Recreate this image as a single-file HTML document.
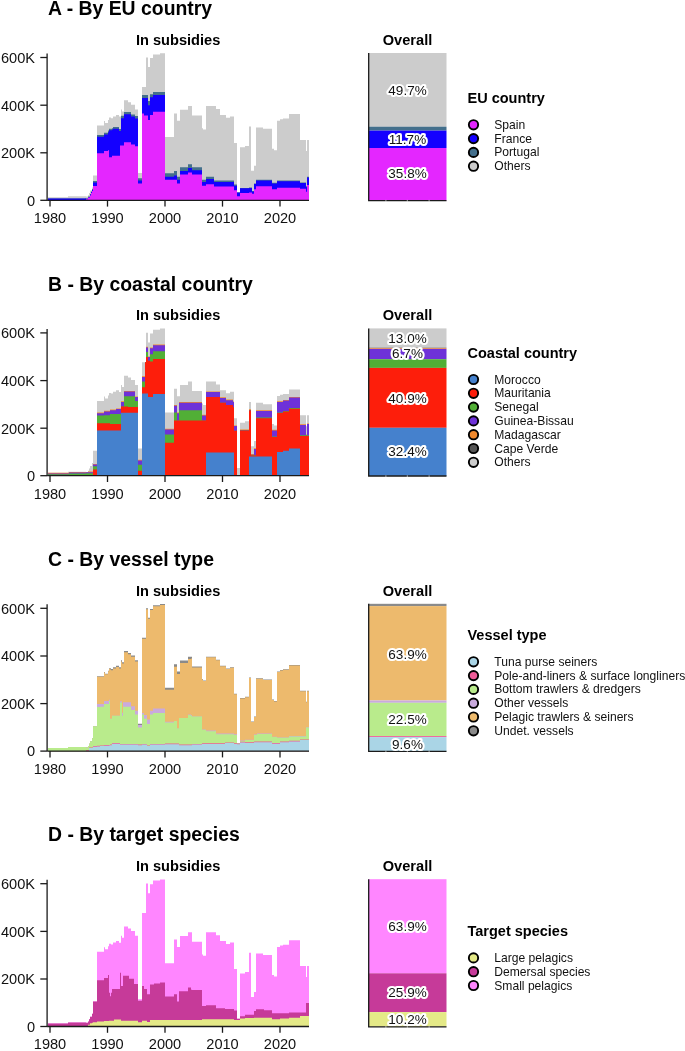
<!DOCTYPE html>
<html><head><meta charset="utf-8"><style>
html,body{margin:0;padding:0;background:#fff;width:685px;height:1051px;overflow:hidden;font-family:"Liberation Sans", sans-serif;}
svg{display:block;will-change:transform}
</style></head><body>
<svg width="685" height="1051" viewBox="0 0 685 1051" font-family='"Liberation Sans", sans-serif'>
<text x="48.0" y="15.1" font-size="19.4" font-weight="bold" text-anchor="start" fill="#000" >A - By EU country</text>
<text x="178.1" y="45.0" font-size="14.6" font-weight="bold" text-anchor="middle" fill="#000" >In subsidies</text>
<text x="407.5" y="45.0" font-size="14.6" font-weight="bold" text-anchor="middle" fill="#000" >Overall</text>
<path d="M48,200.40L48,197.30L68,197.30L68,196.30L85,196.30L85,196.30L86,196.30L86,196.60L88,196.60L88,195.30L89,195.30L89,193.00L90,193.00L90,190.50L91,190.50L91,190.50L92,190.50L92,187.50L93,187.50L93,175.40L97,175.40L97,125.50L104,125.50L104,121.10L105,121.10L105,123.00L108,123.00L108,120.00L109,120.00L109,117.50L111,117.50L111,118.20L112,118.20L112,118.20L113,118.20L113,116.40L116,116.40L116,114.90L119,114.90L119,116.50L120,116.50L120,116.50L121,116.50L121,109.50L122,109.50L122,111.50L124,111.50L124,100.30L128,100.30L128,102.20L131,102.20L131,104.70L135,104.70L135,109.50L138,109.50L138,173.00L142,173.00L142,86.90L144,86.90L144,86.90L146,86.90L146,57.40L148,57.40L148,67.00L150,67.00L150,58.10L153,58.10L153,54.40L160,54.40L160,53.20L165,53.20L165,137.00L174,137.00L174,113.40L177,113.40L177,120.80L180,120.80L180,109.70L188,109.70L188,106.00L192,106.00L192,115.60L202,115.60L202,128.20L203,128.20L203,129.60L206,129.60L206,106.00L214,106.00L214,106.00L216,106.00L216,109.00L220,109.00L220,114.90L226,114.90L226,117.80L230,117.80L230,116.40L234,116.40L234,142.90L237,142.90L237,192.50L240,192.50L240,147.30L245,147.30L245,145.90L249,145.90L249,126.60L251,126.60L251,170.80L252,170.80L252,170.80L254,170.80L254,165.70L256,165.70L256,127.40L263,127.40L263,128.80L272,128.80L272,148.70L274,148.70L274,150.20L277,150.20L277,120.70L280,120.70L280,119.30L283,119.30L283,118.50L289,118.50L289,114.10L300,114.10L300,139.90L306,139.90L306,150.90L307,150.90L307,139.90L309,139.90L309,200.40Z" fill="#cccccc"/>
<path d="M48,200.40L48,198.40L68,198.40L68,198.40L85,198.40L85,198.30L86,198.30L86,198.50L88,198.50L88,196.50L89,196.50L89,196.50L90,196.50L90,194.00L91,194.00L91,191.50L92,191.50L92,189.00L93,189.00L93,181.10L97,181.10L97,135.00L104,135.00L104,132.80L105,132.80L105,132.80L108,132.80L108,130.50L109,130.50L109,128.80L111,128.80L111,128.80L112,128.80L112,128.20L113,128.20L113,127.00L116,127.00L116,127.00L119,127.00L119,129.00L120,129.00L120,129.00L121,129.00L121,115.70L122,115.70L122,115.70L124,115.70L124,112.00L128,112.00L128,112.00L131,112.00L131,114.60L135,114.60L135,116.00L138,116.00L138,178.30L142,178.30L142,95.00L144,95.00L144,95.00L146,95.00L146,95.00L148,95.00L148,100.90L150,100.90L150,94.20L153,94.20L153,92.00L160,92.00L160,92.00L165,92.00L165,173.20L174,173.20L174,171.00L177,171.00L177,176.80L180,176.80L180,167.30L188,167.30L188,164.30L192,164.30L192,167.30L202,167.30L202,179.80L203,179.80L203,179.80L206,179.80L206,176.80L214,176.80L214,180.50L216,180.50L216,180.50L220,180.50L220,180.50L226,180.50L226,180.50L230,180.50L230,180.50L234,180.50L234,184.50L237,184.50L237,192.50L240,192.50L240,187.90L245,187.90L245,187.90L249,187.90L249,187.50L251,187.50L251,187.50L252,187.50L252,191.00L254,191.00L254,183.60L256,183.60L256,179.80L263,179.80L263,179.80L272,179.80L272,182.80L274,182.80L274,182.80L277,182.80L277,180.60L280,180.60L280,180.60L283,180.60L283,180.60L289,180.60L289,180.60L300,180.60L300,182.40L306,182.40L306,186.30L307,186.30L307,176.80L309,176.80L309,200.40Z" fill="#436f8c"/>
<path d="M48,200.40L48,198.60L68,198.60L68,198.60L85,198.60L85,198.50L86,198.50L86,198.80L88,198.80L88,197.00L89,197.00L89,197.00L90,197.00L90,194.50L91,194.50L91,192.00L92,192.00L92,190.00L93,190.00L93,182.40L97,182.40L97,136.80L104,136.80L104,134.60L105,134.60L105,134.60L108,134.60L108,132.30L109,132.30L109,130.30L111,130.30L111,130.30L112,130.30L112,129.50L113,129.50L113,128.80L116,128.80L116,128.80L119,128.80L119,131.00L120,131.00L120,131.00L121,131.00L121,118.20L122,118.20L122,118.20L124,118.20L124,114.20L128,114.20L128,114.20L131,114.20L131,116.40L135,116.40L135,118.60L138,118.60L138,180.50L142,180.50L142,97.90L144,97.90L144,97.90L146,97.90L146,97.90L148,97.90L148,105.30L150,105.30L150,97.20L153,97.20L153,95.00L160,95.00L160,95.00L165,95.00L165,176.80L174,176.80L174,175.40L177,175.40L177,179.80L180,179.80L180,171.00L188,171.00L188,168.00L192,168.00L192,170.20L202,170.20L202,182.00L203,182.00L203,182.00L206,182.00L206,179.10L214,179.10L214,182.00L216,182.00L216,182.00L220,182.00L220,182.00L226,182.00L226,182.00L230,182.00L230,182.00L234,182.00L234,185.70L237,185.70L237,192.50L240,192.50L240,188.30L245,188.30L245,188.30L249,188.30L249,188.00L251,188.00L251,188.00L252,188.00L252,191.50L254,191.50L254,184.10L256,184.10L256,180.40L263,180.40L263,180.40L272,180.40L272,183.40L274,183.40L274,183.40L277,183.40L277,181.20L280,181.20L280,181.20L283,181.20L283,181.20L289,181.20L289,181.20L300,181.20L300,183.00L306,183.00L306,186.90L307,186.90L307,177.40L309,177.40L309,200.40Z" fill="#1400ff"/>
<path d="M48,200.40L48,200.20L68,200.20L68,200.20L85,200.20L85,199.90L86,199.90L86,199.20L88,199.20L88,197.50L89,197.50L89,197.50L90,197.50L90,195.50L91,195.50L91,193.00L92,193.00L92,191.00L93,191.00L93,185.90L97,185.90L97,153.20L104,153.20L104,151.10L105,151.10L105,151.10L108,151.10L108,150.30L109,150.30L109,157.30L111,157.30L111,157.30L112,157.30L112,155.80L113,155.80L113,155.80L116,155.80L116,155.80L119,155.80L119,155.80L120,155.80L120,145.60L121,145.60L121,145.60L122,145.60L122,145.60L124,145.60L124,142.30L128,142.30L128,142.30L131,142.30L131,144.50L135,144.50L135,146.30L138,146.30L138,183.50L142,183.50L142,113.40L144,113.40L144,115.60L146,115.60L146,115.60L148,115.60L148,120.00L150,120.00L150,114.90L153,114.90L153,111.70L160,111.70L160,111.70L165,111.70L165,179.80L174,179.80L174,179.80L177,179.80L177,183.50L180,183.50L180,174.60L188,174.60L188,172.40L192,172.40L192,174.60L202,174.60L202,185.70L203,185.70L203,185.70L206,185.70L206,184.20L214,184.20L214,186.40L216,186.40L216,186.40L220,186.40L220,186.40L226,186.40L226,186.40L230,186.40L230,186.40L234,186.40L234,190.30L237,190.30L237,196.30L240,196.30L240,193.00L245,193.00L245,193.00L249,193.00L249,192.50L251,192.50L251,192.50L252,192.50L252,193.70L254,193.70L254,189.30L256,189.30L256,186.30L263,186.30L263,186.30L272,186.30L272,189.30L274,189.30L274,189.30L277,189.30L277,187.80L280,187.80L280,187.80L283,187.80L283,187.80L289,187.80L289,187.80L300,187.80L300,188.80L306,188.80L306,191.70L307,191.70L307,185.00L309,185.00L309,200.40Z" fill="#e426ff"/>
<path d="M47.1,53.5V200.3" stroke="#1a1a1a" stroke-width="1.3" fill="none"/>
<path d="M40.3,57.5H47.1" stroke="#1a1a1a" stroke-width="1.3"/>
<text x="35.0" y="62.8" font-size="14.6" font-weight="normal" text-anchor="end" fill="#111" >600K</text>
<path d="M40.3,105.2H47.1" stroke="#1a1a1a" stroke-width="1.3"/>
<text x="35.0" y="110.5" font-size="14.6" font-weight="normal" text-anchor="end" fill="#111" >400K</text>
<path d="M40.3,152.8H47.1" stroke="#1a1a1a" stroke-width="1.3"/>
<text x="35.0" y="158.1" font-size="14.6" font-weight="normal" text-anchor="end" fill="#111" >200K</text>
<path d="M40.3,200.3H47.1" stroke="#1a1a1a" stroke-width="1.3"/>
<text x="35.0" y="205.6" font-size="14.6" font-weight="normal" text-anchor="end" fill="#111" >0</text>
<path d="M47.1,200.3H309.0" stroke="#1a1a1a" stroke-width="1.3"/>
<path d="M50.0,200.3V206.6" stroke="#1a1a1a" stroke-width="1.3"/>
<text x="50.0" y="223.1" font-size="14.6" font-weight="normal" text-anchor="middle" fill="#111" >1980</text>
<path d="M107.5,200.3V206.6" stroke="#1a1a1a" stroke-width="1.3"/>
<text x="107.5" y="223.1" font-size="14.6" font-weight="normal" text-anchor="middle" fill="#111" >1990</text>
<path d="M165.0,200.3V206.6" stroke="#1a1a1a" stroke-width="1.3"/>
<text x="165.0" y="223.1" font-size="14.6" font-weight="normal" text-anchor="middle" fill="#111" >2000</text>
<path d="M222.5,200.3V206.6" stroke="#1a1a1a" stroke-width="1.3"/>
<text x="222.5" y="223.1" font-size="14.6" font-weight="normal" text-anchor="middle" fill="#111" >2010</text>
<path d="M280.0,200.3V206.6" stroke="#1a1a1a" stroke-width="1.3"/>
<text x="280.0" y="223.1" font-size="14.6" font-weight="normal" text-anchor="middle" fill="#111" >2020</text>
<rect x="368.5" y="53.00" width="78" height="73.70" fill="#cccccc"/>
<rect x="368.5" y="126.70" width="78" height="3.90" fill="#436f8c"/>
<rect x="368.5" y="130.60" width="78" height="17.40" fill="#1400ff"/>
<rect x="368.5" y="148.00" width="78" height="52.50" fill="#e426ff"/>
<path d="M368.7,53.0V200.6H446.5" stroke="#1a1a1a" stroke-width="1.3" fill="none"/>
<rect x="385.4" y="199.9" width="1" height="1.8" fill="#fff" opacity="0.6"/>
<rect x="406.8" y="199.9" width="1" height="1.8" fill="#fff" opacity="0.6"/>
<rect x="428.6" y="199.9" width="1" height="1.8" fill="#fff" opacity="0.6"/>
<text x="407.5" y="95.1" font-size="13.5" font-weight="normal" text-anchor="middle" fill="#111" stroke="#fff" stroke-width="4.2" paint-order="stroke" stroke-linejoin="round">49.7%</text>
<text x="407.5" y="144.4" font-size="13.5" font-weight="normal" text-anchor="middle" fill="#111" stroke="#fff" stroke-width="4.2" paint-order="stroke" stroke-linejoin="round">11.7%</text>
<text x="407.5" y="178.4" font-size="13.5" font-weight="normal" text-anchor="middle" fill="#111" stroke="#fff" stroke-width="4.2" paint-order="stroke" stroke-linejoin="round">35.8%</text>
<text x="467.5" y="103.0" font-size="14.5" font-weight="bold" text-anchor="start" fill="#000" >EU country</text>
<circle cx="473.5" cy="124.8" r="4.65" fill="#e426ff" stroke="#000" stroke-width="1.9"/>
<text x="494.3" y="128.8" font-size="12.1" font-weight="normal" text-anchor="start" fill="#111" >Spain</text>
<circle cx="473.5" cy="138.6" r="4.65" fill="#1400ff" stroke="#000" stroke-width="1.9"/>
<text x="494.3" y="142.6" font-size="12.1" font-weight="normal" text-anchor="start" fill="#111" >France</text>
<circle cx="473.5" cy="152.4" r="4.65" fill="#436f8c" stroke="#000" stroke-width="1.9"/>
<text x="494.3" y="156.4" font-size="12.1" font-weight="normal" text-anchor="start" fill="#111" >Portugal</text>
<circle cx="473.5" cy="166.2" r="4.65" fill="#cccccc" stroke="#000" stroke-width="1.9"/>
<text x="494.3" y="170.2" font-size="12.1" font-weight="normal" text-anchor="start" fill="#111" >Others</text>
<text x="48.0" y="290.5" font-size="19.4" font-weight="bold" text-anchor="start" fill="#000" >B - By coastal country</text>
<text x="178.1" y="320.4" font-size="14.6" font-weight="bold" text-anchor="middle" fill="#000" >In subsidies</text>
<text x="407.5" y="320.4" font-size="14.6" font-weight="bold" text-anchor="middle" fill="#000" >Overall</text>
<path d="M48,475.80L48,472.70L68,472.70L68,471.70L69,471.70L69,471.70L86,471.70L86,472.00L88,472.00L88,470.70L89,470.70L89,468.40L90,468.40L90,465.90L92,465.90L92,462.90L93,462.90L93,450.80L97,450.80L97,400.90L104,400.90L104,396.50L105,396.50L105,398.40L108,398.40L108,395.40L109,395.40L109,392.90L110,392.90L110,392.90L111,392.90L111,393.60L113,393.60L113,391.80L116,391.80L116,390.30L119,390.30L119,391.90L121,391.90L121,384.90L122,384.90L122,386.90L124,386.90L124,375.70L128,375.70L128,377.60L131,377.60L131,380.10L135,380.10L135,384.90L138,384.90L138,448.40L142,448.40L142,362.30L145,362.30L145,362.30L146,362.30L146,332.80L148,332.80L148,342.40L150,342.40L150,333.50L153,333.50L153,329.80L160,329.80L160,328.60L165,328.60L165,412.40L174,412.40L174,388.80L177,388.80L177,396.20L179,396.20L179,396.20L180,396.20L180,385.10L188,385.10L188,381.40L192,381.40L192,391.00L202,391.00L202,403.60L203,403.60L203,405.00L206,405.00L206,381.40L216,381.40L216,384.40L220,384.40L220,390.30L226,390.30L226,393.20L230,393.20L230,391.80L233,391.80L233,391.80L234,391.80L234,418.30L237,418.30L237,467.90L240,467.90L240,422.70L245,422.70L245,421.30L249,421.30L249,402.00L251,402.00L251,446.20L254,446.20L254,441.10L256,441.10L256,402.80L263,402.80L263,404.20L272,404.20L272,424.10L274,424.10L274,425.60L277,425.60L277,396.10L280,396.10L280,394.70L283,394.70L283,393.90L289,393.90L289,389.50L300,389.50L300,415.30L306,415.30L306,426.30L307,426.30L307,415.30L309,415.30L309,475.80Z" fill="#cccccc"/>
<path d="M48,475.80L48,472.70L68,472.70L68,472.70L69,472.70L69,471.90L86,471.90L86,472.00L88,472.00L88,471.50L89,471.50L89,471.50L90,471.50L90,471.50L92,471.50L92,471.50L93,471.50L93,463.90L97,463.90L97,412.60L104,412.60L104,410.70L105,410.70L105,410.70L108,410.70L108,410.70L109,410.70L109,410.70L110,410.70L110,409.50L111,409.50L111,409.50L113,409.50L113,409.50L116,409.50L116,408.40L119,408.40L119,408.40L121,408.40L121,401.20L122,401.20L122,401.20L124,401.20L124,390.90L128,390.90L128,390.90L131,390.90L131,390.90L135,390.90L135,396.40L138,396.40L138,459.70L142,459.70L142,376.30L145,376.30L145,362.30L146,362.30L146,346.80L148,346.80L148,356.40L150,356.40L150,347.60L153,347.60L153,344.60L160,344.60L160,344.60L165,344.60L165,428.70L174,428.70L174,405.10L177,405.10L177,412.50L179,412.50L179,402.10L180,402.10L180,402.10L188,402.10L188,402.10L192,402.10L192,402.10L202,402.10L202,414.70L203,414.70L203,414.70L206,414.70L206,391.40L216,391.40L216,391.40L220,391.40L220,397.30L226,397.30L226,399.50L230,399.50L230,399.50L233,399.50L233,401.40L234,401.40L234,425.40L237,425.40L237,475.20L240,475.20L240,429.40L245,429.40L245,429.40L249,429.40L249,409.20L251,409.20L251,454.10L254,454.10L254,448.20L256,448.20L256,410.20L263,410.20L263,410.20L272,410.20L272,429.80L274,429.80L274,429.80L277,429.80L277,401.30L280,401.30L280,401.30L283,401.30L283,399.90L289,399.90L289,396.90L300,396.90L300,424.20L306,424.20L306,434.50L307,434.50L307,423.40L309,423.40L309,475.80Z" fill="#f0882c"/>
<path d="M48,475.80L48,473.40L68,473.40L68,473.40L69,473.40L69,472.60L86,472.60L86,472.20L88,472.20L88,472.20L89,472.20L89,472.20L90,472.20L90,472.20L92,472.20L92,472.20L93,472.20L93,464.60L97,464.60L97,413.30L104,413.30L104,411.40L105,411.40L105,411.40L108,411.40L108,411.40L109,411.40L109,411.40L110,411.40L110,410.20L111,410.20L111,410.20L113,410.20L113,410.20L116,410.20L116,409.10L119,409.10L119,409.10L121,409.10L121,401.90L122,401.90L122,401.90L124,401.90L124,391.60L128,391.60L128,391.60L131,391.60L131,391.60L135,391.60L135,397.10L138,397.10L138,460.40L142,460.40L142,377.00L145,377.00L145,362.30L146,362.30L146,347.50L148,347.50L148,357.10L150,357.10L150,348.30L153,348.30L153,345.30L160,345.30L160,345.30L165,345.30L165,429.40L174,429.40L174,405.80L177,405.80L177,413.20L179,413.20L179,402.80L180,402.80L180,402.80L188,402.80L188,402.80L192,402.80L192,402.80L202,402.80L202,415.40L203,415.40L203,415.40L206,415.40L206,392.10L216,392.10L216,392.10L220,392.10L220,398.00L226,398.00L226,400.20L230,400.20L230,400.20L233,400.20L233,402.10L234,402.10L234,426.10L237,426.10L237,475.80L240,475.80L240,430.10L245,430.10L245,430.10L249,430.10L249,409.90L251,409.90L251,454.80L254,454.80L254,448.90L256,448.90L256,410.90L263,410.90L263,410.90L272,410.90L272,430.50L274,430.50L274,430.50L277,430.50L277,402.00L280,402.00L280,402.00L283,402.00L283,400.60L289,400.60L289,397.60L300,397.60L300,424.90L306,424.90L306,435.20L307,435.20L307,424.10L309,424.10L309,475.80Z" fill="#6e31d8"/>
<path d="M48,475.80L48,474.20L68,474.20L68,474.20L69,474.20L69,473.60L86,473.60L86,473.20L88,473.20L88,473.20L89,473.20L89,473.20L90,473.20L90,473.20L92,473.20L92,473.20L93,473.20L93,466.20L97,466.20L97,415.40L104,415.40L104,415.20L105,415.20L105,415.20L108,415.20L108,415.20L109,415.20L109,415.20L110,415.20L110,414.10L111,414.10L111,414.10L113,414.10L113,414.10L116,414.10L116,414.10L119,414.10L119,414.10L121,414.10L121,406.40L122,406.40L122,406.40L124,406.40L124,396.20L128,396.20L128,396.20L131,396.20L131,396.20L135,396.20L135,401.10L138,401.10L138,464.80L142,464.80L142,381.40L145,381.40L145,362.30L146,362.30L146,351.90L148,351.90L148,360.80L150,360.80L150,354.20L153,354.20L153,351.20L160,351.20L160,351.20L165,351.20L165,434.50L174,434.50L174,412.40L177,412.40L177,420.50L179,420.50L179,410.20L180,410.20L180,410.20L188,410.20L188,410.20L192,410.20L192,410.20L202,410.20L202,420.50L203,420.50L203,420.50L206,420.50L206,396.90L216,396.90L216,396.90L220,396.90L220,402.80L226,402.80L226,405.00L230,405.00L230,405.00L233,405.00L233,407.30L234,407.30L234,430.70L237,430.70L237,475.80L240,475.80L240,430.40L245,430.40L245,430.40L249,430.40L249,410.40L251,410.40L251,455.30L254,455.30L254,455.30L256,455.30L256,417.60L263,417.60L263,417.60L272,417.60L272,436.50L274,436.50L274,436.50L277,436.50L277,412.50L280,412.50L280,412.50L283,412.50L283,411.00L289,411.00L289,408.10L300,408.10L300,435.30L306,435.30L306,435.30L307,435.30L307,435.30L309,435.30L309,475.80Z" fill="#51af36"/>
<path d="M48,475.80L48,475.80L68,475.80L68,475.80L69,475.80L69,475.80L86,475.80L86,475.80L88,475.80L88,475.80L89,475.80L89,475.80L90,475.80L90,475.80L92,475.80L92,475.80L93,475.80L93,469.40L97,469.40L97,423.30L104,423.30L104,423.20L105,423.20L105,423.20L108,423.20L108,423.20L109,423.20L109,423.20L110,423.20L110,423.90L111,423.90L111,423.90L113,423.90L113,423.90L116,423.90L116,423.90L119,423.90L119,423.90L121,423.90L121,406.40L122,406.40L122,406.40L124,406.40L124,406.40L128,406.40L128,407.00L131,407.00L131,407.00L135,407.00L135,407.00L138,407.00L138,470.70L142,470.70L142,387.30L145,387.30L145,362.30L146,362.30L146,357.10L148,357.10L148,360.80L150,360.80L150,361.50L153,361.50L153,359.00L160,359.00L160,359.00L165,359.00L165,442.70L174,442.70L174,420.50L177,420.50L177,420.50L179,420.50L179,420.50L180,420.50L180,420.50L188,420.50L188,420.50L192,420.50L192,420.50L202,420.50L202,420.50L203,420.50L203,420.50L206,420.50L206,396.90L216,396.90L216,396.90L220,396.90L220,402.80L226,402.80L226,405.00L230,405.00L230,405.00L233,405.00L233,407.30L234,407.30L234,430.70L237,430.70L237,475.80L240,475.80L240,430.40L245,430.40L245,430.40L249,430.40L249,410.60L251,410.60L251,455.40L254,455.40L254,455.40L256,455.40L256,418.20L263,418.20L263,418.20L272,418.20L272,437.10L274,437.10L274,437.10L277,437.10L277,413.10L280,413.10L280,413.10L283,413.10L283,411.60L289,411.60L289,408.70L300,408.70L300,435.90L306,435.90L306,435.90L307,435.90L307,435.90L309,435.90L309,475.80Z" fill="#fd1e0b"/>
<path d="M48,475.80L48,475.80L68,475.80L68,475.80L69,475.80L69,475.80L86,475.80L86,475.80L88,475.80L88,475.80L89,475.80L89,475.80L90,475.80L90,475.80L92,475.80L92,475.80L93,475.80L93,475.80L97,475.80L97,430.60L104,430.60L104,430.40L105,430.40L105,430.40L108,430.40L108,430.40L109,430.40L109,430.40L110,430.40L110,430.40L111,430.40L111,430.40L113,430.40L113,430.40L116,430.40L116,430.40L119,430.40L119,430.40L121,430.40L121,412.80L122,412.80L122,412.80L124,412.80L124,412.80L128,412.80L128,412.80L131,412.80L131,412.80L135,412.80L135,412.80L138,412.80L138,475.80L142,475.80L142,393.50L145,393.50L145,393.50L146,393.50L146,393.50L148,393.50L148,396.90L150,396.90L150,396.90L153,396.90L153,394.00L160,394.00L160,394.00L165,394.00L165,475.80L174,475.80L174,475.80L177,475.80L177,475.80L179,475.80L179,475.80L180,475.80L180,475.80L188,475.80L188,475.80L192,475.80L192,475.80L202,475.80L202,475.80L203,475.80L203,475.80L206,475.80L206,452.50L216,452.50L216,452.50L220,452.50L220,452.50L226,452.50L226,452.50L230,452.50L230,452.50L233,452.50L233,452.50L234,452.50L234,475.80L237,475.80L237,475.80L240,475.80L240,475.80L245,475.80L245,475.80L249,475.80L249,456.60L251,456.60L251,456.60L254,456.60L254,456.60L256,456.60L256,456.60L263,456.60L263,456.60L272,456.60L272,475.80L274,475.80L274,475.80L277,475.80L277,452.10L280,452.10L280,452.10L283,452.10L283,450.70L289,450.70L289,448.40L300,448.40L300,475.80L306,475.80L306,475.80L307,475.80L307,475.80L309,475.80L309,475.80Z" fill="#4581cd"/>
<path d="M47.1,328.9V475.7" stroke="#1a1a1a" stroke-width="1.3" fill="none"/>
<path d="M40.3,332.9H47.1" stroke="#1a1a1a" stroke-width="1.3"/>
<text x="35.0" y="338.2" font-size="14.6" font-weight="normal" text-anchor="end" fill="#111" >600K</text>
<path d="M40.3,380.6H47.1" stroke="#1a1a1a" stroke-width="1.3"/>
<text x="35.0" y="385.9" font-size="14.6" font-weight="normal" text-anchor="end" fill="#111" >400K</text>
<path d="M40.3,428.2H47.1" stroke="#1a1a1a" stroke-width="1.3"/>
<text x="35.0" y="433.5" font-size="14.6" font-weight="normal" text-anchor="end" fill="#111" >200K</text>
<path d="M40.3,475.7H47.1" stroke="#1a1a1a" stroke-width="1.3"/>
<text x="35.0" y="481.0" font-size="14.6" font-weight="normal" text-anchor="end" fill="#111" >0</text>
<path d="M47.1,475.7H309.0" stroke="#1a1a1a" stroke-width="1.3"/>
<path d="M50.0,475.7V482.0" stroke="#1a1a1a" stroke-width="1.3"/>
<text x="50.0" y="498.5" font-size="14.6" font-weight="normal" text-anchor="middle" fill="#111" >1980</text>
<path d="M107.5,475.7V482.0" stroke="#1a1a1a" stroke-width="1.3"/>
<text x="107.5" y="498.5" font-size="14.6" font-weight="normal" text-anchor="middle" fill="#111" >1990</text>
<path d="M165.0,475.7V482.0" stroke="#1a1a1a" stroke-width="1.3"/>
<text x="165.0" y="498.5" font-size="14.6" font-weight="normal" text-anchor="middle" fill="#111" >2000</text>
<path d="M222.5,475.7V482.0" stroke="#1a1a1a" stroke-width="1.3"/>
<text x="222.5" y="498.5" font-size="14.6" font-weight="normal" text-anchor="middle" fill="#111" >2010</text>
<path d="M280.0,475.7V482.0" stroke="#1a1a1a" stroke-width="1.3"/>
<text x="280.0" y="498.5" font-size="14.6" font-weight="normal" text-anchor="middle" fill="#111" >2020</text>
<rect x="368.5" y="328.40" width="78" height="19.30" fill="#cccccc"/>
<rect x="368.5" y="347.70" width="78" height="0.40" fill="#555555"/>
<rect x="368.5" y="348.10" width="78" height="0.80" fill="#f0882c"/>
<rect x="368.5" y="348.90" width="78" height="10.30" fill="#6e31d8"/>
<rect x="368.5" y="359.20" width="78" height="8.70" fill="#51af36"/>
<rect x="368.5" y="367.90" width="78" height="59.90" fill="#fd1e0b"/>
<rect x="368.5" y="427.80" width="78" height="48.10" fill="#4581cd"/>
<path d="M368.7,328.4V476.0H446.5" stroke="#1a1a1a" stroke-width="1.3" fill="none"/>
<rect x="385.4" y="475.3" width="1" height="1.8" fill="#fff" opacity="0.6"/>
<rect x="406.8" y="475.3" width="1" height="1.8" fill="#fff" opacity="0.6"/>
<rect x="428.6" y="475.3" width="1" height="1.8" fill="#fff" opacity="0.6"/>
<text x="407.5" y="342.7" font-size="13.5" font-weight="normal" text-anchor="middle" fill="#111" stroke="#fff" stroke-width="4.2" paint-order="stroke" stroke-linejoin="round">13.0%</text>
<text x="407.5" y="358.3" font-size="13.5" font-weight="normal" text-anchor="middle" fill="#111" stroke="#fff" stroke-width="4.2" paint-order="stroke" stroke-linejoin="round">6.7%</text>
<text x="407.5" y="402.5" font-size="13.5" font-weight="normal" text-anchor="middle" fill="#111" stroke="#fff" stroke-width="4.2" paint-order="stroke" stroke-linejoin="round">40.9%</text>
<text x="407.5" y="455.8" font-size="13.5" font-weight="normal" text-anchor="middle" fill="#111" stroke="#fff" stroke-width="4.2" paint-order="stroke" stroke-linejoin="round">32.4%</text>
<text x="467.5" y="357.7" font-size="14.5" font-weight="bold" text-anchor="start" fill="#000" >Coastal country</text>
<circle cx="473.5" cy="379.5" r="4.65" fill="#4581cd" stroke="#000" stroke-width="1.9"/>
<text x="494.3" y="383.5" font-size="12.1" font-weight="normal" text-anchor="start" fill="#111" >Morocco</text>
<circle cx="473.5" cy="393.3" r="4.65" fill="#fd1e0b" stroke="#000" stroke-width="1.9"/>
<text x="494.3" y="397.3" font-size="12.1" font-weight="normal" text-anchor="start" fill="#111" >Mauritania</text>
<circle cx="473.5" cy="407.1" r="4.65" fill="#51af36" stroke="#000" stroke-width="1.9"/>
<text x="494.3" y="411.1" font-size="12.1" font-weight="normal" text-anchor="start" fill="#111" >Senegal</text>
<circle cx="473.5" cy="420.9" r="4.65" fill="#6e31d8" stroke="#000" stroke-width="1.9"/>
<text x="494.3" y="424.9" font-size="12.1" font-weight="normal" text-anchor="start" fill="#111" >Guinea-Bissau</text>
<circle cx="473.5" cy="434.7" r="4.65" fill="#f0882c" stroke="#000" stroke-width="1.9"/>
<text x="494.3" y="438.7" font-size="12.1" font-weight="normal" text-anchor="start" fill="#111" >Madagascar</text>
<circle cx="473.5" cy="448.5" r="4.65" fill="#555555" stroke="#000" stroke-width="1.9"/>
<text x="494.3" y="452.5" font-size="12.1" font-weight="normal" text-anchor="start" fill="#111" >Cape Verde</text>
<circle cx="473.5" cy="462.3" r="4.65" fill="#cccccc" stroke="#000" stroke-width="1.9"/>
<text x="494.3" y="466.3" font-size="12.1" font-weight="normal" text-anchor="start" fill="#111" >Others</text>
<text x="48.0" y="565.9" font-size="19.4" font-weight="bold" text-anchor="start" fill="#000" >C - By vessel type</text>
<text x="178.1" y="595.8" font-size="14.6" font-weight="bold" text-anchor="middle" fill="#000" >In subsidies</text>
<text x="407.5" y="595.8" font-size="14.6" font-weight="bold" text-anchor="middle" fill="#000" >Overall</text>
<path d="M48,751.20L48,748.10L68,748.10L68,747.10L86,747.10L86,747.40L88,747.40L88,746.10L89,746.10L89,743.80L90,743.80L90,741.30L92,741.30L92,738.30L93,738.30L93,726.20L97,726.20L97,676.30L100,676.30L100,676.30L104,676.30L104,671.90L105,671.90L105,673.80L108,673.80L108,670.80L109,670.80L109,668.30L110,668.30L110,668.30L111,668.30L111,669.00L112,669.00L112,669.00L113,669.00L113,667.20L116,667.20L116,665.70L119,665.70L119,667.30L120,667.30L120,667.30L121,667.30L121,660.30L122,660.30L122,662.30L123,662.30L123,662.30L124,662.30L124,651.10L128,651.10L128,653.00L131,653.00L131,655.50L135,655.50L135,660.30L138,660.30L138,723.80L142,723.80L142,637.70L144,637.70L144,637.70L146,637.70L146,608.20L147,608.20L147,608.20L148,608.20L148,617.80L150,617.80L150,608.90L153,608.90L153,605.20L160,605.20L160,604.00L165,604.00L165,687.80L174,687.80L174,664.20L177,664.20L177,671.60L179,671.60L179,671.60L180,671.60L180,660.50L188,660.50L188,656.80L191,656.80L191,656.80L192,656.80L192,666.40L202,666.40L202,679.00L203,679.00L203,680.40L206,680.40L206,656.80L216,656.80L216,659.80L220,659.80L220,665.70L225,665.70L225,665.70L226,665.70L226,668.60L230,668.60L230,667.20L234,667.20L234,693.70L237,693.70L237,743.30L240,743.30L240,698.10L245,698.10L245,696.70L249,696.70L249,677.40L251,677.40L251,721.60L254,721.60L254,716.50L256,716.50L256,678.20L257,678.20L257,678.20L263,678.20L263,679.60L272,679.60L272,699.50L274,699.50L274,701.00L277,701.00L277,671.50L280,671.50L280,670.10L283,670.10L283,669.30L289,669.30L289,664.90L300,664.90L300,690.70L306,690.70L306,701.70L307,701.70L307,690.70L309,690.70L309,751.20Z" fill="#8a8a8a"/>
<path d="M48,751.20L48,748.10L68,748.10L68,747.10L86,747.10L86,747.40L88,747.40L88,746.10L89,746.10L89,743.80L90,743.80L90,741.30L92,741.30L92,738.30L93,738.30L93,726.20L97,726.20L97,676.80L100,676.80L100,676.80L104,676.80L104,672.40L105,672.40L105,674.30L108,674.30L108,671.30L109,671.30L109,668.80L110,668.80L110,669.50L111,669.50L111,670.20L112,670.20L112,670.20L113,670.20L113,668.40L116,668.40L116,666.90L119,666.90L119,668.50L120,668.50L120,668.50L121,668.50L121,661.50L122,661.50L122,663.50L123,663.50L123,663.50L124,663.50L124,652.30L128,652.30L128,654.20L131,654.20L131,656.70L135,656.70L135,661.50L138,661.50L138,725.00L142,725.00L142,638.70L144,638.70L144,638.70L146,638.70L146,609.20L147,609.20L147,609.20L148,609.20L148,618.80L150,618.80L150,609.90L153,609.90L153,606.20L160,606.20L160,605.00L165,605.00L165,689.80L174,689.80L174,666.70L177,666.70L177,673.90L179,673.90L179,674.10L180,674.10L180,663.00L188,663.00L188,659.10L191,659.10L191,658.60L192,658.60L192,667.60L202,667.60L202,679.60L203,679.60L203,681.00L206,681.00L206,657.30L216,657.30L216,660.30L220,660.30L220,666.20L225,666.20L225,666.20L226,666.20L226,669.10L230,669.10L230,667.70L234,667.70L234,694.20L237,694.20L237,743.80L240,743.80L240,698.60L245,698.60L245,697.20L249,697.20L249,677.90L251,677.90L251,722.10L254,722.10L254,717.00L256,717.00L256,678.70L257,678.70L257,678.70L263,678.70L263,680.10L272,680.10L272,700.00L274,700.00L274,701.50L277,701.50L277,672.00L280,672.00L280,670.60L283,670.60L283,669.80L289,669.80L289,665.40L300,665.40L300,691.20L306,691.20L306,702.20L307,702.20L307,691.20L309,691.20L309,751.20Z" fill="#edba6d"/>
<path d="M48,751.20L48,748.10L68,748.10L68,747.10L86,747.10L86,747.40L88,747.40L88,746.10L89,746.10L89,743.80L90,743.80L90,741.30L92,741.30L92,738.30L93,738.30L93,726.20L97,726.20L97,703.90L100,703.90L100,704.00L104,704.00L104,701.10L105,701.10L105,701.10L108,701.10L108,701.10L109,701.10L109,699.80L110,699.80L110,718.80L111,718.80L111,718.80L112,718.80L112,715.80L113,715.80L113,715.80L116,715.80L116,715.80L119,715.80L119,715.80L120,715.80L120,701.30L121,701.30L121,701.30L122,701.30L122,712.80L123,712.80L123,702.30L124,702.30L124,702.30L128,702.30L128,702.30L131,702.30L131,706.30L135,706.30L135,710.70L138,710.70L138,725.00L142,725.00L142,712.90L144,712.90L144,715.10L146,715.10L146,715.10L147,715.10L147,719.50L148,719.50L148,719.50L150,719.50L150,710.70L153,710.70L153,708.50L160,708.50L160,708.50L165,708.50L165,721.80L174,721.80L174,721.00L177,721.00L177,728.40L179,728.40L179,718.10L180,718.10L180,718.10L188,718.10L188,714.40L191,714.40L191,715.10L192,715.10L192,716.60L202,716.60L202,729.40L203,729.40L203,729.40L206,729.40L206,730.40L216,730.40L216,733.40L220,733.40L220,733.40L225,733.40L225,733.40L226,733.40L226,733.40L230,733.40L230,733.40L234,733.40L234,734.30L237,734.30L237,743.80L240,743.80L240,740.40L245,740.40L245,739.80L249,739.80L249,739.80L251,739.80L251,739.80L254,739.80L254,734.60L256,734.60L256,734.60L257,734.60L257,733.60L263,733.60L263,733.60L272,733.60L272,736.80L274,736.80L274,736.80L277,736.80L277,737.50L280,737.50L280,737.50L283,737.50L283,737.50L289,737.50L289,736.10L300,736.10L300,736.10L306,736.10L306,727.20L307,727.20L307,727.20L309,727.20L309,751.20Z" fill="#c9aadd"/>
<path d="M48,751.20L48,748.10L68,748.10L68,747.10L86,747.10L86,747.40L88,747.40L88,746.10L89,746.10L89,743.80L90,743.80L90,741.30L92,741.30L92,738.30L93,738.30L93,726.20L97,726.20L97,707.10L100,707.10L100,706.70L104,706.70L104,704.00L105,704.00L105,704.00L108,704.00L108,704.00L109,704.00L109,701.10L110,701.10L110,718.80L111,718.80L111,718.80L112,718.80L112,715.80L113,715.80L113,715.80L116,715.80L116,715.80L119,715.80L119,715.80L120,715.80L120,702.60L121,702.60L121,702.60L122,702.60L122,715.80L123,715.80L123,706.70L124,706.70L124,706.70L128,706.70L128,706.70L131,706.70L131,709.90L135,709.90L135,714.40L138,714.40L138,727.60L142,727.60L142,714.40L144,714.40L144,718.80L146,718.80L146,718.80L147,718.80L147,724.00L148,724.00L148,724.00L150,724.00L150,714.40L153,714.40L153,712.90L160,712.90L160,712.90L165,712.90L165,722.50L174,722.50L174,721.00L177,721.00L177,728.40L179,728.40L179,718.10L180,718.10L180,718.10L188,718.10L188,715.10L191,715.10L191,715.80L192,715.80L192,716.60L202,716.60L202,729.80L203,729.80L203,729.80L206,729.80L206,731.30L216,731.30L216,734.30L220,734.30L220,734.30L225,734.30L225,734.30L226,734.30L226,734.30L230,734.30L230,734.30L234,734.30L234,735.00L237,735.00L237,743.80L240,743.80L240,740.90L245,740.90L245,740.10L249,740.10L249,740.10L251,740.10L251,740.10L254,740.10L254,734.90L256,734.90L256,734.90L257,734.90L257,733.90L263,733.90L263,733.90L272,733.90L272,737.10L274,737.10L274,737.10L277,737.10L277,737.80L280,737.80L280,737.80L283,737.80L283,737.80L289,737.80L289,736.40L300,736.40L300,736.40L306,736.40L306,727.50L307,727.50L307,727.50L309,727.50L309,751.20Z" fill="#b9eb8c"/>
<path d="M48,751.20L48,751.20L68,751.20L68,751.20L86,751.20L86,750.30L88,750.30L88,750.30L89,750.30L89,747.40L90,747.40L90,747.40L92,747.40L92,747.40L93,747.40L93,746.10L97,746.10L97,745.80L100,745.80L100,745.40L104,745.40L104,745.10L105,745.10L105,745.10L108,745.10L108,745.10L109,745.10L109,744.90L110,744.90L110,744.60L111,744.60L111,744.60L112,744.60L112,743.10L113,743.10L113,743.10L116,743.10L116,743.10L119,743.10L119,743.10L120,743.10L120,743.90L121,743.90L121,743.90L122,743.90L122,743.90L123,743.90L123,743.90L124,743.90L124,743.90L128,743.90L128,743.90L131,743.90L131,743.90L135,743.90L135,743.90L138,743.90L138,744.60L142,744.60L142,743.90L144,743.90L144,743.90L146,743.90L146,743.90L147,743.90L147,745.40L148,745.40L148,745.40L150,745.40L150,743.90L153,743.90L153,743.90L160,743.90L160,743.90L165,743.90L165,743.50L174,743.50L174,743.50L177,743.50L177,743.50L179,743.50L179,744.60L180,744.60L180,744.60L188,744.60L188,744.60L191,744.60L191,744.60L192,744.60L192,743.90L202,743.90L202,743.20L203,743.20L203,743.20L206,743.20L206,743.20L216,743.20L216,743.20L220,743.20L220,743.20L225,743.20L225,742.40L226,742.40L226,742.40L230,742.40L230,742.40L234,742.40L234,743.20L237,743.20L237,743.80L240,743.80L240,741.70L245,741.70L245,742.30L249,742.30L249,742.30L251,742.30L251,742.30L254,742.30L254,741.60L256,741.60L256,741.60L257,741.60L257,741.60L263,741.60L263,741.60L272,741.60L272,743.10L274,743.10L274,743.10L277,743.10L277,743.10L280,743.10L280,741.60L283,741.60L283,741.60L289,741.60L289,740.80L300,740.80L300,739.40L306,739.40L306,739.40L307,739.40L307,739.40L309,739.40L309,751.20Z" fill="#ee5c98"/>
<path d="M48,751.20L48,751.20L68,751.20L68,751.20L86,751.20L86,751.00L88,751.00L88,751.00L89,751.00L89,748.10L90,748.10L90,748.10L92,748.10L92,748.10L93,748.10L93,746.80L97,746.80L97,746.50L100,746.50L100,746.10L104,746.10L104,745.80L105,745.80L105,745.80L108,745.80L108,745.80L109,745.80L109,745.60L110,745.60L110,745.30L111,745.30L111,745.30L112,745.30L112,743.80L113,743.80L113,743.80L116,743.80L116,743.80L119,743.80L119,743.80L120,743.80L120,744.60L121,744.60L121,744.60L122,744.60L122,744.60L123,744.60L123,744.60L124,744.60L124,744.60L128,744.60L128,744.60L131,744.60L131,744.60L135,744.60L135,744.60L138,744.60L138,745.30L142,745.30L142,744.60L144,744.60L144,744.60L146,744.60L146,744.60L147,744.60L147,746.10L148,746.10L148,746.10L150,746.10L150,744.60L153,744.60L153,744.60L160,744.60L160,744.60L165,744.60L165,744.20L174,744.20L174,744.20L177,744.20L177,744.20L179,744.20L179,745.30L180,745.30L180,745.30L188,745.30L188,745.30L191,745.30L191,745.30L192,745.30L192,744.60L202,744.60L202,743.90L203,743.90L203,743.90L206,743.90L206,743.90L216,743.90L216,743.90L220,743.90L220,743.90L225,743.90L225,743.10L226,743.10L226,743.10L230,743.10L230,743.10L234,743.10L234,743.90L237,743.90L237,744.30L240,744.30L240,742.40L245,742.40L245,743.00L249,743.00L249,743.00L251,743.00L251,743.00L254,743.00L254,742.30L256,742.30L256,742.30L257,742.30L257,742.30L263,742.30L263,742.30L272,742.30L272,743.80L274,743.80L274,743.80L277,743.80L277,743.80L280,743.80L280,742.30L283,742.30L283,742.30L289,742.30L289,741.50L300,741.50L300,740.10L306,740.10L306,740.10L307,740.10L307,740.10L309,740.10L309,751.20Z" fill="#aad5e6"/>
<path d="M47.1,604.3V751.1" stroke="#1a1a1a" stroke-width="1.3" fill="none"/>
<path d="M40.3,608.3H47.1" stroke="#1a1a1a" stroke-width="1.3"/>
<text x="35.0" y="613.6" font-size="14.6" font-weight="normal" text-anchor="end" fill="#111" >600K</text>
<path d="M40.3,656.0H47.1" stroke="#1a1a1a" stroke-width="1.3"/>
<text x="35.0" y="661.3" font-size="14.6" font-weight="normal" text-anchor="end" fill="#111" >400K</text>
<path d="M40.3,703.6H47.1" stroke="#1a1a1a" stroke-width="1.3"/>
<text x="35.0" y="708.9" font-size="14.6" font-weight="normal" text-anchor="end" fill="#111" >200K</text>
<path d="M40.3,751.1H47.1" stroke="#1a1a1a" stroke-width="1.3"/>
<text x="35.0" y="756.4" font-size="14.6" font-weight="normal" text-anchor="end" fill="#111" >0</text>
<path d="M47.1,751.1H309.0" stroke="#1a1a1a" stroke-width="1.3"/>
<path d="M50.0,751.1V757.4" stroke="#1a1a1a" stroke-width="1.3"/>
<text x="50.0" y="773.9" font-size="14.6" font-weight="normal" text-anchor="middle" fill="#111" >1980</text>
<path d="M107.5,751.1V757.4" stroke="#1a1a1a" stroke-width="1.3"/>
<text x="107.5" y="773.9" font-size="14.6" font-weight="normal" text-anchor="middle" fill="#111" >1990</text>
<path d="M165.0,751.1V757.4" stroke="#1a1a1a" stroke-width="1.3"/>
<text x="165.0" y="773.9" font-size="14.6" font-weight="normal" text-anchor="middle" fill="#111" >2000</text>
<path d="M222.5,751.1V757.4" stroke="#1a1a1a" stroke-width="1.3"/>
<text x="222.5" y="773.9" font-size="14.6" font-weight="normal" text-anchor="middle" fill="#111" >2010</text>
<path d="M280.0,751.1V757.4" stroke="#1a1a1a" stroke-width="1.3"/>
<text x="280.0" y="773.9" font-size="14.6" font-weight="normal" text-anchor="middle" fill="#111" >2020</text>
<rect x="368.5" y="603.80" width="78" height="2.30" fill="#8a8a8a"/>
<rect x="368.5" y="606.10" width="78" height="94.40" fill="#edba6d"/>
<rect x="368.5" y="700.50" width="78" height="2.30" fill="#c9aadd"/>
<rect x="368.5" y="702.80" width="78" height="33.30" fill="#b9eb8c"/>
<rect x="368.5" y="736.10" width="78" height="1.00" fill="#ee5c98"/>
<rect x="368.5" y="737.10" width="78" height="14.20" fill="#aad5e6"/>
<path d="M368.7,603.8V751.4H446.5" stroke="#1a1a1a" stroke-width="1.3" fill="none"/>
<rect x="385.4" y="750.7" width="1" height="1.8" fill="#fff" opacity="0.6"/>
<rect x="406.8" y="750.7" width="1" height="1.8" fill="#fff" opacity="0.6"/>
<rect x="428.6" y="750.7" width="1" height="1.8" fill="#fff" opacity="0.6"/>
<text x="407.5" y="658.5" font-size="13.5" font-weight="normal" text-anchor="middle" fill="#111" stroke="#fff" stroke-width="4.2" paint-order="stroke" stroke-linejoin="round">63.9%</text>
<text x="407.5" y="724.3" font-size="13.5" font-weight="normal" text-anchor="middle" fill="#111" stroke="#fff" stroke-width="4.2" paint-order="stroke" stroke-linejoin="round">22.5%</text>
<text x="407.5" y="749.1" font-size="13.5" font-weight="normal" text-anchor="middle" fill="#111" stroke="#fff" stroke-width="4.2" paint-order="stroke" stroke-linejoin="round">9.6%</text>
<text x="467.5" y="640.0" font-size="14.5" font-weight="bold" text-anchor="start" fill="#000" >Vessel type</text>
<circle cx="473.5" cy="661.8" r="4.65" fill="#aad5e6" stroke="#000" stroke-width="1.9"/>
<text x="494.3" y="665.8" font-size="12.1" font-weight="normal" text-anchor="start" fill="#111" >Tuna purse seiners</text>
<circle cx="473.5" cy="675.6" r="4.65" fill="#ee5c98" stroke="#000" stroke-width="1.9"/>
<text x="494.3" y="679.6" font-size="12.1" font-weight="normal" text-anchor="start" fill="#111" >Pole-and-liners &amp; surface longliners</text>
<circle cx="473.5" cy="689.4" r="4.65" fill="#b9eb8c" stroke="#000" stroke-width="1.9"/>
<text x="494.3" y="693.4" font-size="12.1" font-weight="normal" text-anchor="start" fill="#111" >Bottom trawlers &amp; dredgers</text>
<circle cx="473.5" cy="703.2" r="4.65" fill="#c9aadd" stroke="#000" stroke-width="1.9"/>
<text x="494.3" y="707.2" font-size="12.1" font-weight="normal" text-anchor="start" fill="#111" >Other vessels</text>
<circle cx="473.5" cy="717.0" r="4.65" fill="#edba6d" stroke="#000" stroke-width="1.9"/>
<text x="494.3" y="721.0" font-size="12.1" font-weight="normal" text-anchor="start" fill="#111" >Pelagic trawlers &amp; seiners</text>
<circle cx="473.5" cy="730.8" r="4.65" fill="#8a8a8a" stroke="#000" stroke-width="1.9"/>
<text x="494.3" y="734.8" font-size="12.1" font-weight="normal" text-anchor="start" fill="#111" >Undet. vessels</text>
<text x="48.0" y="841.3" font-size="19.4" font-weight="bold" text-anchor="start" fill="#000" >D - By target species</text>
<text x="178.1" y="871.2" font-size="14.6" font-weight="bold" text-anchor="middle" fill="#000" >In subsidies</text>
<text x="407.5" y="871.2" font-size="14.6" font-weight="bold" text-anchor="middle" fill="#000" >Overall</text>
<path d="M48,1026.60L48,1023.50L68,1023.50L68,1022.50L86,1022.50L86,1022.80L88,1022.80L88,1021.50L89,1021.50L89,1019.20L90,1019.20L90,1016.70L92,1016.70L92,1013.70L93,1013.70L93,1001.60L97,1001.60L97,951.70L104,951.70L104,947.30L105,947.30L105,949.20L108,949.20L108,946.20L109,946.20L109,943.70L110,943.70L110,943.70L111,943.70L111,944.40L112,944.40L112,944.40L113,944.40L113,942.60L114,942.60L114,942.60L116,942.60L116,941.10L119,941.10L119,942.70L120,942.70L120,942.70L121,942.70L121,935.70L122,935.70L122,937.70L123,937.70L123,937.70L124,937.70L124,926.50L128,926.50L128,928.40L129,928.40L129,928.40L131,928.40L131,930.90L134,930.90L134,930.90L135,930.90L135,935.70L138,935.70L138,999.20L142,999.20L142,913.10L144,913.10L144,913.10L146,913.10L146,883.60L147,883.60L147,883.60L148,883.60L148,893.20L150,893.20L150,884.30L153,884.30L153,880.60L154,880.60L154,880.60L160,880.60L160,879.40L165,879.40L165,963.20L174,963.20L174,939.60L177,939.60L177,947.00L179,947.00L179,947.00L180,947.00L180,935.90L188,935.90L188,932.20L191,932.20L191,932.20L192,932.20L192,941.80L202,941.80L202,954.40L203,954.40L203,955.80L206,955.80L206,932.20L216,932.20L216,935.20L220,935.20L220,941.10L225,941.10L225,941.10L226,941.10L226,944.00L230,944.00L230,942.60L234,942.60L234,969.10L237,969.10L237,1018.70L240,1018.70L240,973.50L245,973.50L245,972.10L249,972.10L249,952.80L251,952.80L251,997.00L254,997.00L254,991.90L256,991.90L256,953.60L263,953.60L263,955.00L264,955.00L264,955.00L272,955.00L272,974.90L274,974.90L274,976.40L277,976.40L277,946.90L280,946.90L280,945.50L283,945.50L283,944.70L289,944.70L289,940.30L300,940.30L300,966.10L306,966.10L306,977.10L307,977.10L307,966.10L309,966.10L309,1026.60Z" fill="#ff86ff"/>
<path d="M48,1026.60L48,1023.50L68,1023.50L68,1022.50L86,1022.50L86,1022.80L88,1022.80L88,1021.50L89,1021.50L89,1019.20L90,1019.20L90,1016.70L92,1016.70L92,1013.70L93,1013.70L93,1001.60L97,1001.60L97,980.20L104,980.20L104,978.00L105,978.00L105,978.00L108,978.00L108,975.00L109,975.00L109,992.70L110,992.70L110,996.20L111,996.20L111,992.70L112,992.70L112,989.00L113,989.00L113,989.00L114,989.00L114,989.00L116,989.00L116,989.00L119,989.00L119,989.00L120,989.00L120,972.80L121,972.80L121,986.10L122,986.10L122,986.10L123,986.10L123,975.80L124,975.80L124,975.80L128,975.80L128,975.80L129,975.80L129,978.70L131,978.70L131,978.70L134,978.70L134,983.90L135,983.90L135,983.90L138,983.90L138,1000.80L142,1000.80L142,986.10L144,986.10L144,989.00L146,989.00L146,989.00L147,989.00L147,994.20L148,994.20L148,994.20L150,994.20L150,984.60L153,984.60L153,984.60L154,984.60L154,983.60L160,983.60L160,982.40L165,982.40L165,996.40L174,996.40L174,994.20L177,994.20L177,1001.60L179,1001.60L179,991.20L180,991.20L180,991.20L188,991.20L188,987.60L191,987.60L191,989.80L192,989.80L192,990.10L202,990.10L202,1006.00L203,1006.00L203,1006.00L206,1006.00L206,1005.30L216,1005.30L216,1008.20L220,1008.20L220,1008.20L225,1008.20L225,1008.90L226,1008.90L226,1008.90L230,1008.90L230,1008.90L234,1008.90L234,1010.50L237,1010.50L237,1018.70L240,1018.70L240,1016.20L245,1016.20L245,1014.70L249,1014.70L249,1014.70L251,1014.70L251,1014.70L254,1014.70L254,1011.00L256,1011.00L256,1009.30L263,1009.30L263,1009.30L264,1009.30L264,1010.20L272,1010.20L272,1013.20L274,1013.20L274,1013.20L277,1013.20L277,1013.20L280,1013.20L280,1013.20L283,1013.20L283,1013.20L289,1013.20L289,1012.50L300,1012.50L300,1012.50L306,1012.50L306,1002.90L307,1002.90L307,1002.90L309,1002.90L309,1026.60Z" fill="#c63a99"/>
<path d="M48,1026.60L48,1026.40L68,1026.40L68,1026.40L86,1026.40L86,1026.00L88,1026.00L88,1024.70L89,1024.70L89,1024.70L90,1024.70L90,1023.20L92,1023.20L92,1022.70L93,1022.70L93,1022.20L97,1022.20L97,1021.50L104,1021.50L104,1021.00L105,1021.00L105,1021.00L108,1021.00L108,1021.00L109,1021.00L109,1020.70L110,1020.70L110,1020.70L111,1020.70L111,1020.70L112,1020.70L112,1020.70L113,1020.70L113,1020.70L114,1020.70L114,1019.60L116,1019.60L116,1019.60L119,1019.60L119,1019.60L120,1019.60L120,1019.60L121,1019.60L121,1020.70L122,1020.70L122,1020.70L123,1020.70L123,1020.70L124,1020.70L124,1020.70L128,1020.70L128,1020.70L129,1020.70L129,1020.70L131,1020.70L131,1020.70L134,1020.70L134,1020.70L135,1020.70L135,1020.70L138,1020.70L138,1022.20L142,1022.20L142,1020.70L144,1020.70L144,1020.70L146,1020.70L146,1020.70L147,1020.70L147,1021.90L148,1021.90L148,1021.90L150,1021.90L150,1020.00L153,1020.00L153,1020.00L154,1020.00L154,1020.00L160,1020.00L160,1020.00L165,1020.00L165,1020.00L174,1020.00L174,1020.00L177,1020.00L177,1020.00L179,1020.00L179,1020.00L180,1020.00L180,1020.00L188,1020.00L188,1020.00L191,1020.00L191,1020.00L192,1020.00L192,1020.00L202,1020.00L202,1019.30L203,1019.30L203,1019.30L206,1019.30L206,1019.30L216,1019.30L216,1019.30L220,1019.30L220,1019.30L225,1019.30L225,1019.30L226,1019.30L226,1019.30L230,1019.30L230,1019.30L234,1019.30L234,1019.90L237,1019.90L237,1019.90L240,1019.90L240,1018.50L245,1018.50L245,1018.00L249,1018.00L249,1018.00L251,1018.00L251,1018.00L254,1018.00L254,1017.70L256,1017.70L256,1017.70L263,1017.70L263,1017.70L264,1017.70L264,1017.70L272,1017.70L272,1019.20L274,1019.20L274,1019.20L277,1019.20L277,1019.20L280,1019.20L280,1018.40L283,1018.40L283,1018.40L289,1018.40L289,1017.70L300,1017.70L300,1015.90L306,1015.90L306,1015.90L307,1015.90L307,1015.90L309,1015.90L309,1026.60Z" fill="#e4e987"/>
<path d="M47.1,879.7V1026.5" stroke="#1a1a1a" stroke-width="1.3" fill="none"/>
<path d="M40.3,883.7H47.1" stroke="#1a1a1a" stroke-width="1.3"/>
<text x="35.0" y="889.0" font-size="14.6" font-weight="normal" text-anchor="end" fill="#111" >600K</text>
<path d="M40.3,931.4H47.1" stroke="#1a1a1a" stroke-width="1.3"/>
<text x="35.0" y="936.7" font-size="14.6" font-weight="normal" text-anchor="end" fill="#111" >400K</text>
<path d="M40.3,979.0H47.1" stroke="#1a1a1a" stroke-width="1.3"/>
<text x="35.0" y="984.3" font-size="14.6" font-weight="normal" text-anchor="end" fill="#111" >200K</text>
<path d="M40.3,1026.5H47.1" stroke="#1a1a1a" stroke-width="1.3"/>
<text x="35.0" y="1031.8" font-size="14.6" font-weight="normal" text-anchor="end" fill="#111" >0</text>
<path d="M47.1,1026.5H309.0" stroke="#1a1a1a" stroke-width="1.3"/>
<path d="M50.0,1026.5V1032.8" stroke="#1a1a1a" stroke-width="1.3"/>
<text x="50.0" y="1049.3" font-size="14.6" font-weight="normal" text-anchor="middle" fill="#111" >1980</text>
<path d="M107.5,1026.5V1032.8" stroke="#1a1a1a" stroke-width="1.3"/>
<text x="107.5" y="1049.3" font-size="14.6" font-weight="normal" text-anchor="middle" fill="#111" >1990</text>
<path d="M165.0,1026.5V1032.8" stroke="#1a1a1a" stroke-width="1.3"/>
<text x="165.0" y="1049.3" font-size="14.6" font-weight="normal" text-anchor="middle" fill="#111" >2000</text>
<path d="M222.5,1026.5V1032.8" stroke="#1a1a1a" stroke-width="1.3"/>
<text x="222.5" y="1049.3" font-size="14.6" font-weight="normal" text-anchor="middle" fill="#111" >2010</text>
<path d="M280.0,1026.5V1032.8" stroke="#1a1a1a" stroke-width="1.3"/>
<text x="280.0" y="1049.3" font-size="14.6" font-weight="normal" text-anchor="middle" fill="#111" >2020</text>
<rect x="368.5" y="879.20" width="78" height="94.10" fill="#ff86ff"/>
<rect x="368.5" y="973.30" width="78" height="38.80" fill="#c63a99"/>
<rect x="368.5" y="1012.10" width="78" height="14.60" fill="#e4e987"/>
<path d="M368.7,879.2V1026.8H446.5" stroke="#1a1a1a" stroke-width="1.3" fill="none"/>
<rect x="385.4" y="1026.1" width="1" height="1.8" fill="#fff" opacity="0.6"/>
<rect x="406.8" y="1026.1" width="1" height="1.8" fill="#fff" opacity="0.6"/>
<rect x="428.6" y="1026.1" width="1" height="1.8" fill="#fff" opacity="0.6"/>
<text x="407.5" y="931.4" font-size="13.5" font-weight="normal" text-anchor="middle" fill="#111" stroke="#fff" stroke-width="4.2" paint-order="stroke" stroke-linejoin="round">63.9%</text>
<text x="407.5" y="997.3" font-size="13.5" font-weight="normal" text-anchor="middle" fill="#111" stroke="#fff" stroke-width="4.2" paint-order="stroke" stroke-linejoin="round">25.9%</text>
<text x="407.5" y="1024.0" font-size="13.5" font-weight="normal" text-anchor="middle" fill="#111" stroke="#fff" stroke-width="4.2" paint-order="stroke" stroke-linejoin="round">10.2%</text>
<text x="467.5" y="936.1" font-size="14.5" font-weight="bold" text-anchor="start" fill="#000" >Target species</text>
<circle cx="473.5" cy="957.9" r="4.65" fill="#e4e987" stroke="#000" stroke-width="1.9"/>
<text x="494.3" y="961.9" font-size="12.1" font-weight="normal" text-anchor="start" fill="#111" >Large pelagics</text>
<circle cx="473.5" cy="971.7" r="4.65" fill="#c63a99" stroke="#000" stroke-width="1.9"/>
<text x="494.3" y="975.7" font-size="12.1" font-weight="normal" text-anchor="start" fill="#111" >Demersal species</text>
<circle cx="473.5" cy="985.5" r="4.65" fill="#ff86ff" stroke="#000" stroke-width="1.9"/>
<text x="494.3" y="989.5" font-size="12.1" font-weight="normal" text-anchor="start" fill="#111" >Small pelagics</text>
</svg>
</body></html>
